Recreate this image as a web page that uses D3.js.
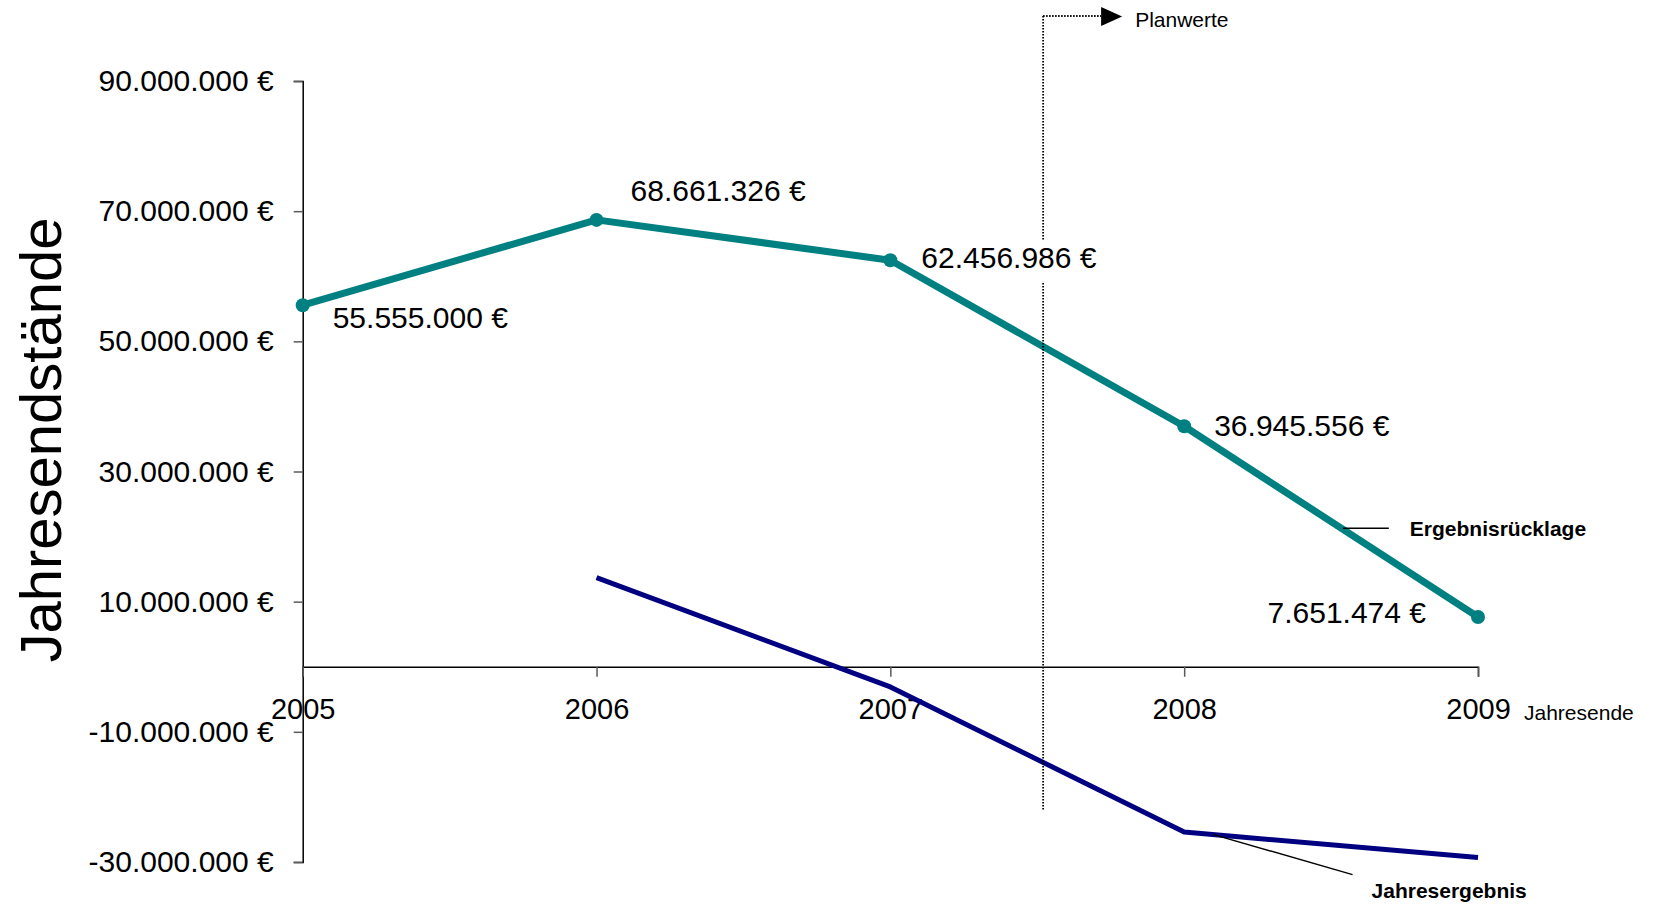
<!DOCTYPE html>
<html>
<head>
<meta charset="utf-8">
<script src="https://cdn.jsdelivr.net/npm/d3@7"></script>
<style>
  body { margin: 0; background: #fff; }
  svg { display: block; font-family: "Liberation Sans", Arial, sans-serif; }
</style>
</head>
<body>
<svg id="chart" width="1654" height="904"></svg>
<script>
// values
var years = [2005, 2006, 2007, 2008, 2009];
var ruecklage = [55555000, 68661326, 62456986, 36945556, 7651474];
var ergebnisYears = [2006, 2007, 2008, 2009];
var ergebnis = [13700000, -3100000, -25400000, -29300000];
var yTicks = [90000000, 70000000, 50000000, 30000000, 10000000, -10000000, -30000000];
var xTicks = [2005, 2006, 2007, 2008, 2009];

// label placement relative to each point (px)
var labelOffsets = [[30, 12], [34, -29], [31, -3], [30, -1], [-52, -4]];

var svg = d3.select('#chart');
svg.append('rect').attr('width', 1654).attr('height', 904).attr('fill', '#fff');

var x = d3.scaleLinear().domain([2005, 2009]).range([302.7, 1478]);
var y = d3.scaleLinear().domain([-30000000, 90000000]).range([862, 81]);

var de = d3.formatLocale({ decimal: ',', thousands: '.', grouping: [3], currency: ['', ' €'], minus: '-' });
var euro = de.format('$,.0f');

// y axis
var yAxis = svg.append('g')
  .attr('transform', 'translate(' + x(2005) + ',0)')
  .call(d3.axisLeft(y).tickValues(yTicks).tickSize(9).tickSizeOuter(9).tickPadding(20).tickFormat(euro));
yAxis.select('.domain').attr('stroke', '#000').attr('stroke-width', 1.5);
yAxis.selectAll('.tick line').attr('stroke', '#5a5a5a').attr('stroke-width', 1.5);
yAxis.selectAll('.tick text').attr('font-size', 30).attr('fill', '#000').attr('font-family', null);

// x axis on the zero line
var xAxis = svg.append('g')
  .attr('transform', 'translate(0,' + y(0) + ')')
  .call(d3.axisBottom(x).tickValues(xTicks).tickSize(10).tickSizeOuter(10).tickPadding(22).tickFormat(d3.format('d')));
xAxis.select('.domain').attr('stroke', '#000').attr('stroke-width', 1.5);
xAxis.selectAll('.tick line').attr('stroke', '#5a5a5a').attr('stroke-width', 1.5);
xAxis.selectAll('.tick text').attr('font-size', 29).attr('fill', '#000').attr('font-family', null);

svg.append('text')
  .attr('x', x(2009) + 46).attr('y', y(0) + 53)
  .attr('font-size', 21)
  .text('Jahresende');

// axis title
svg.append('text')
  .attr('transform', 'translate(61,440) rotate(-90)')
  .attr('text-anchor', 'middle')
  .attr('font-size', 58)
  .text('Jahresendstände');

// series lines
var line = d3.line()
  .x(function(d) { return x(d[0]); })
  .y(function(d) { return y(d[1]); });

var ergData = ergebnisYears.map(function(yr, i) { return [yr, ergebnis[i]]; });
var rlData = years.map(function(yr, i) { return [yr, ruecklage[i]]; });

svg.append('path')
  .datum(ergData)
  .attr('d', line)
  .attr('fill', 'none')
  .attr('stroke', '#000080')
  .attr('stroke-width', 5)
  .attr('stroke-linejoin', 'round');

svg.append('path')
  .datum(rlData)
  .attr('d', line)
  .attr('fill', 'none')
  .attr('stroke', '#008080')
  .attr('stroke-width', 7)
  .attr('stroke-linejoin', 'round');

svg.selectAll('circle.pt')
  .data(rlData)
  .enter()
  .append('circle')
  .attr('class', 'pt')
  .attr('cx', function(d) { return x(d[0]); })
  .attr('cy', function(d) { return y(d[1]); })
  .attr('r', 7)
  .attr('fill', '#008080');

// data labels
var labels = svg.selectAll('text.lbl')
  .data(rlData)
  .enter()
  .append('text')
  .attr('class', 'lbl')
  .attr('x', function(d, i) { return x(d[0]) + labelOffsets[i][0]; })
  .attr('y', function(d, i) { return y(d[1]) + labelOffsets[i][1]; })
  .attr('dy', '0.35em')
  .attr('text-anchor', function(d, i) { return labelOffsets[i][0] < 0 ? 'end' : 'start'; })
  .attr('font-size', 30)
  .text(function(d) { return euro(d[1]); });

// mask so the dotted marker stops at the label boxes
var mask = svg.append('defs').append('mask').attr('id', 'lblmask');
mask.append('rect').attr('width', 1654).attr('height', 904).attr('fill', '#fff');
labels.each(function() {
  var b = this.getBBox();
  mask.append('rect')
    .attr('x', b.x - 3).attr('y', b.y)
    .attr('width', b.width + 6).attr('height', b.height + 8)
    .attr('fill', '#000');
});

// "Planwerte" marker
var planX = x(2007.52);
var dotted = '1.5,1.5';
var plan = svg.append('g').attr('mask', 'url(#lblmask)');
plan.append('line')
  .attr('x1', planX).attr('x2', planX)
  .attr('y1', 16).attr('y2', y(-22000000))
  .attr('stroke', '#000').attr('stroke-width', 1.8).attr('stroke-dasharray', dotted);
plan.append('line')
  .attr('x1', planX).attr('x2', planX + 58)
  .attr('y1', 16).attr('y2', 16)
  .attr('stroke', '#000').attr('stroke-width', 1.8).attr('stroke-dasharray', dotted);
svg.append('path')
  .attr('d', 'M' + (planX + 58) + ',7L' + (planX + 79) + ',16.5L' + (planX + 58) + ',26Z')
  .attr('fill', '#000');
svg.append('text')
  .attr('x', planX + 92).attr('y', 26.5)
  .attr('font-size', 21)
  .text('Planwerte');

// series name leaders
function onSeries(data, yr) {
  var i = d3.bisectRight(data.map(function(d) { return d[0]; }), yr) - 1;
  var a = data[i], b = data[i + 1];
  var t = (yr - a[0]) / (b[0] - a[0]);
  return [x(yr), y(a[1] + t * (b[1] - a[1]))];
}

var p1 = onSeries(rlData, 2008.54);
svg.append('line')
  .attr('x1', p1[0]).attr('y1', p1[1] - 1)
  .attr('x2', p1[0] + 46).attr('y2', p1[1] - 1)
  .attr('stroke', '#000').attr('stroke-width', 1.5);
svg.append('text')
  .attr('x', p1[0] + 67).attr('y', p1[1] - 1)
  .attr('dy', '0.35em')
  .attr('font-size', 21).attr('font-weight', 'bold')
  .text('Ergebnisrücklage');

var p2 = onSeries(ergData, 2008.1);
svg.append('line')
  .attr('x1', p2[0]).attr('y1', p2[1])
  .attr('x2', p2[0] + 139).attr('y2', p2[1] + 40)
  .attr('stroke', '#000').attr('stroke-width', 1.5);
svg.append('text')
  .attr('x', p2[0] + 158).attr('y', p2[1] + 56)
  .attr('dy', '0.35em')
  .attr('font-size', 21).attr('font-weight', 'bold')
  .text('Jahresergebnis');
</script>
</body>
</html>
